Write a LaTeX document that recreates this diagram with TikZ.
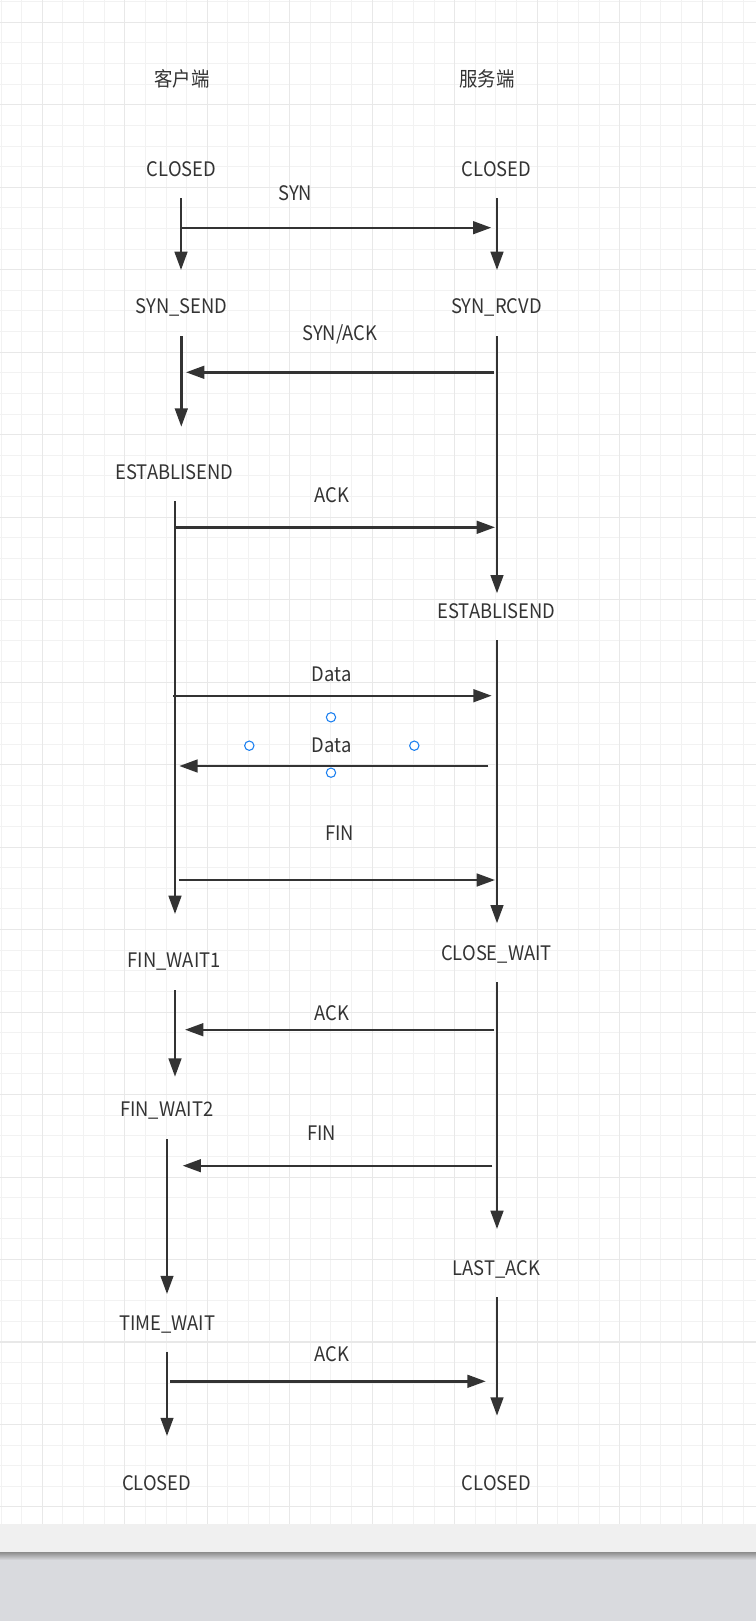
\documentclass[tikz,border=0pt]{standalone}
\usepackage{fontspec}
\setmainfont{Noto Sans CJK SC}[FakeStretch=0.92]
\usepackage{xcolor}
\usepackage{tikz}
\usetikzlibrary{arrows.meta}

\definecolor{ink}{HTML}{333333}
\definecolor{gridminor}{HTML}{F2F2F2}
\definecolor{gridmajor}{HTML}{E8E8E8}
\definecolor{handle}{HTML}{1A7FF0}
\definecolor{desk}{HTML}{D9DADE}

\tikzset{
    stlabel/.style={anchor=base, inner sep=0pt, text=ink, font=\fontsize{15pt}{18pt}\selectfont},
    msg/.style={draw=ink, line width=1.8pt, -{Triangle[length=13.7pt, width=9.5pt]}},
    handledot/.style={circle, draw=handle, fill=white, line width=0.8pt, minimum size=7pt, inner sep=0pt}
}

\begin{document}
\begin{tikzpicture}[x=0.75pt, y=-0.75pt]
        % Page size and the sheet below the canvas
        \useasboundingbox (0,0) rectangle (756,1621);
        \fill[white] (0,0) rectangle (756,1524);
        \fill[black!6] (0,1524) rectangle (756,1552);
        \fill[desk] (0,1552) rectangle (756,1621);
        \shade[top color=black!45, bottom color=desk] (0,1552) rectangle (756,1560);

        % Background grid: thin lines, every fourth one a bit darker
        \begin{scope}
            \clip (0,0) rectangle (756,1524);
            \foreach \i in {0,...,36}
                \draw[gridminor, line width=0.75pt] ({1.06+20.62*\i},0) -- ({1.06+20.62*\i},1524);
            \foreach \j in {0,...,73}
                \draw[gridminor, line width=0.75pt] (0,{1.68+20.62*\j}) -- (756,{1.68+20.62*\j});
            \foreach \i in {0,...,8}
                \draw[gridmajor, line width=0.8pt] ({42.3+82.48*\i},0) -- ({42.3+82.48*\i},1524);
            \foreach \j in {0,...,18}
                \draw[gridmajor, line width=0.8pt] (0,{22.3+82.48*\j}) -- (756,{22.3+82.48*\j});
        \end{scope}

        % Column titles
        \node[stlabel] (client) at (182,86) {客户端};
        \node[stlabel] (server) at (487,86) {服务端};

        % States of the client (left) and the server (right)
        \node[stlabel] (cclosed) at (181.5,176.7) {CLOSED};
        \node[stlabel] (sclosed) at (496.5,176.7) {CLOSED};
        \node[stlabel] (csynsend) at (181.7,313.3) {SYN\_SEND};
        \node[stlabel] (ssynrcvd) at (496.5,313.3) {SYN\_RCVD};
        \node[stlabel] (cestab) at (174.5,479) {ESTABLISEND};
        \node[stlabel] (sestab) at (496.5,618) {ESTABLISEND};
        \node[stlabel] (cfinwait1) at (174.2,967.7) {FIN\_WAIT1};
        \node[stlabel] (sclosewait) at (496.5,960) {CLOSE\_WAIT};
        \node[stlabel] (cfinwait2) at (166.7,1116.7) {FIN\_WAIT2};
        \node[stlabel] (slastack) at (496.5,1275.7) {LAST\_ACK};
        \node[stlabel] (ctimewait) at (167.2,1330) {TIME\_WAIT};
        \node[stlabel] (cclosedend) at (156.7,1490.3) {CLOSED};
        \node[stlabel] (sclosedend) at (496.6,1490.3) {CLOSED};

        % Life lines between two states
        \foreach \n/\x/\ya/\yb in {c1/181/198.3/270, c2/181.3/336/426.7, c3/175/501/914,
                c4/175/990.3/1076.7, c5/167/1139/1294, c6/167/1351.7/1436,
                s1/497/198.3/270, s2/497/336/593.3, s3/497/640/923.3,
                s4/497/982/1229, s5/497/1297/1415.7} {
            \coordinate (\n top) at (\x,\ya);
            \coordinate (\n bot) at (\x,\yb);
            \draw[msg] (\n top) -- (\n bot);
        }

        % Segments sent between the two sides
        \foreach \n/\xa/\xb/\y in {m1/181/491.3/227.7, m2/494.3/186/372.3, m3/175/495/527.3,
                m4/173.3/491.7/695.7, m5/488.3/179.3/766, m6/179/495/880,
                m7/494.3/185/1029.7, m8/492.3/182.7/1165.7, m9/170/485.7/1381.3} {
            \coordinate (\n from) at (\xa,\y);
            \coordinate (\n to) at (\xb,\y);
            \draw[msg] (\n from) -- (\n to);
        }

        % Labels of the segments
        \node[stlabel] (msyn) at (295.3,200) {SYN};
        \node[stlabel] (msynack) at (339.8,340) {SYN/ACK};
        \node[stlabel] (mack) at (331.8,502.7) {ACK};
        \node[stlabel] (mdata) at (331.7,681.5) {Data};
        \node[stlabel] (mdataback) at (331.7,752) {Data};
        \node[stlabel] (mfin) at (339.7,840) {FIN};
        \node[stlabel] (mackfin) at (331.8,1020.7) {ACK};
        \node[stlabel] (mfinback) at (321.7,1140.5) {FIN};
        \node[stlabel] (mlastack) at (331.8,1361.7) {ACK};

        % Selection handles round the second Data label
        \node[handledot] (hn) at (331,717.3) {};
        \node[handledot] (hw) at (249.3,745.7) {};
        \node[handledot] (he) at (414.3,745.7) {};
        \node[handledot] (hs) at (331,772.7) {};
    \end{tikzpicture}
\end{document}
